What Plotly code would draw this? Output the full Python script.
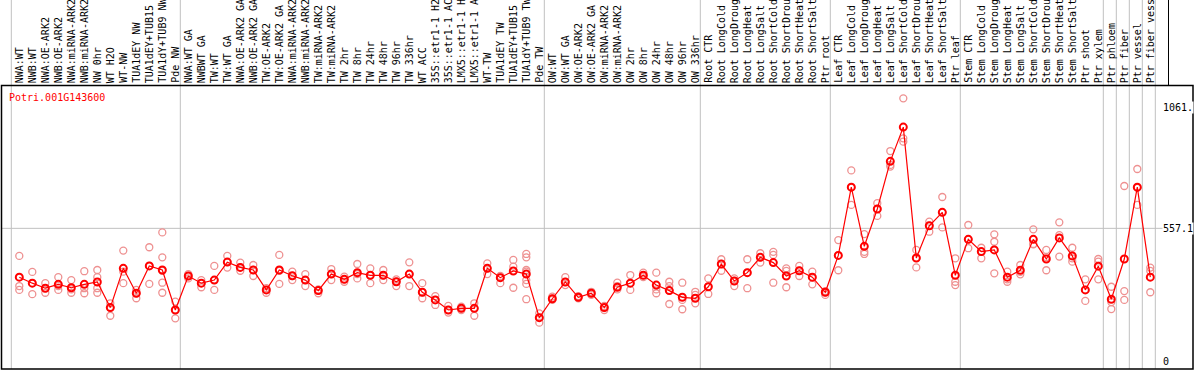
import plotly.graph_objects as go

labels = ["NWA:WT", "NWB:WT", "NWA:OE-ARK2", "NWB:OE-ARK2", "NWA:miRNA-ARK2", "NWB:miRNA-ARK2",
          "NW 0hr", "WT H2O", "WT-NW", "TUA1dEY NW", "TUA1dEY+TUB15", "TUA1dY+TUB9 NW", "Pde NW",
          "NWA:WT GA", "NWBWT GA", "TW:WT", "TW:WT GA", "NWA:OE-ARK2 GA", "NWB:OE-ARK2 GA",
          "TW:OE-ARK2", "TW:OE-ARK2 GA", "NWA:miRNA-ARK2", "NWB:miRNA-ARK2", "TW:miRNA-ARK2",
          "TW:miRNA-ARK2", "TW 2hr", "TW 8hr", "TW 24hr", "TW 48hr", "TW 96hr", "TW 336hr", "WT ACC",
          "35S::etr1-1 H2", "35S::etr1-1 AC", "LMX5::etr1-1 H", "LMX5::etr1-1 A", "WT-TW",
          "TUA1dEY TW", "TUA1dEY+TUB15", "TUA1dY+TUB9 TW", "Pde TW",
          "OW:WT", "OW:WT GA", "OW:OE-ARK2", "OW:OE-ARK2 GA", "OW:miRNA-ARK2", "OW:miRNA-ARK2",
          "OW 2hr", "OW 8hr", "OW 24hr", "OW 48hr", "OW 96hr", "OW 336hr",
          "Root CTR", "Root LongCold", "Root LongDroug", "Root LongHeat", "Root LongSalt",
          "Root ShortCold", "Root ShortDrou", "Root ShortHeat", "Root ShortSalt", "Ptr root",
          "Leaf CTR", "Leaf LongCold", "Leaf LongDroug", "Leaf LongHeat", "Leaf LongSalt",
          "Leaf ShortCold", "Leaf ShortDrou", "Leaf ShortHeat", "Leaf ShortSalt", "Ptr leaf",
          "Stem CTR", "Stem LongCold", "Stem LongDroug", "Stem LongHeat", "Stem LongSalt",
          "Stem ShortCold", "Stem ShortDrou", "Stem ShortHeat", "Stem ShortSalt", "Ptr shoot",
          "Ptr xylem", "Ptr phloem", "Ptr fiber", "Ptr vessel", "Ptr fiber vess"]

means = [353, 328, 307, 323, 309, 323, 333, 226, 390, 286, 400, 383, 216,
         358, 328, 341, 416, 394, 383, 300, 383, 359, 341, 297, 366, 344, 372, 361, 361, 334,
         366, 290, 258, 216, 223, 223, 390, 351, 379, 366, 184,
         263, 333, 269, 286, 226, 311, 328, 361, 320, 297, 269, 265,
         313, 408, 337, 372, 436, 414, 358, 380, 353, 290,
         444, 729, 482, 638, 837, 980, 433, 568, 624, 361,
         511, 460, 467, 353, 382, 511, 429, 517, 442, 300, 399,
         261, 429, 729, 353]

replicates = [
    [442, 316, 300], [375, 328, 282], [328, 307, 288], [353, 316, 300], [341, 302, 288],
    [378, 307, 286], [383, 353, 307, 288], [244, 226, 192], [464, 376, 328], [300, 286, 265],
    [478, 400, 325], [540, 436, 380, 330, 288], [251, 216, 181],
    [366, 358, 348], [341, 328, 311], [400, 341, 300], [442, 416, 393], [414, 394, 380],
    [404, 383, 358], [307, 300, 288], [446, 380, 325], [376, 358, 341], [366, 341, 316],
    [302, 297, 286], [387, 366, 341], [355, 344, 334], [408, 366, 348], [390, 361, 328],
    [383, 361, 341], [344, 334, 316], [415, 366, 316], [328, 290, 265], [274, 258, 237],
    [233, 216, 205], [230, 223, 216], [244, 223, 192], [411, 390, 366], [358, 351, 328],
    [425, 397, 309], [450, 436, 383, 376, 341, 325, 261], [202, 184, 163],
    [272, 263, 258], [353, 333, 320], [274, 269, 265], [292, 286, 279], [233, 226, 216],
    [330, 316, 302], [362, 328, 300], [372, 361, 353], [372, 302, 286], [334, 316, 297, 241],
    [330, 258, 219], [292, 279, 244],
    [348, 313, 283], [428, 408, 380], [348, 337, 316], [428, 372, 307], [453, 436, 414],
    [459, 446, 330], [390, 379, 311], [400, 380, 358], [376, 353, 323], [295, 290, 279],
    [508, 444, 382], [799, 728, 655], [533, 459, 450], [662, 638, 609], [880, 822, 815],
    [1100, 933, 919], [467, 433, 394], [585, 568, 543], [688, 624, 561], [432, 334, 320],
    [571, 511, 474], [476, 459, 432], [532, 501, 369], [376, 344, 334], [404, 375, 365],
    [553, 492, 490], [467, 437, 382], [582, 529, 439], [476, 432, 418], [344, 300, 254],
    [429, 418, 344],
    [313, 249, 220], [734, 295, 258], [805, 726, 655], [393, 379, 290]]

# index of the last label in each group (group separators drawn after these)
group_ends = [0, 13, 41, 53, 63, 73, 84, 85, 86, 87, 88]

gene_id = "Potri.001G143600"
ytick_vals = [1061.0, 557.1, 0]
ytick_text = ["1061.", "557.1", "0"]

W, H = 1194, 370
MONO = "DejaVu Sans Mono"

xs = list(range(1, len(labels) + 1))
rep_x = [x for x, reps in zip(xs, replicates) for _ in reps]
rep_y = [v for reps in replicates for v in reps]

fig = go.Figure()
fig.add_trace(go.Scatter(
    x=rep_x, y=rep_y, mode="markers",
    marker=dict(symbol="circle-open", size=7, color="rgb(238,145,145)",
                line=dict(width=1.3, color="rgb(238,145,145)")),
    hoverinfo="skip", showlegend=False))
fig.add_trace(go.Scatter(
    x=xs, y=means, mode="lines+markers",
    line=dict(color="#ff0000", width=1.2),
    marker=dict(symbol="circle-open", size=7, color="#ff0000",
                line=dict(width=2, color="#ff0000")),
    showlegend=False))

# pixel mapping: marker i at 6.3 + 13*i px; y value v at 361.7 - 0.2394*v px
x_range = [(0 - 6.3) / 13, (W - 6.3) / 13]
y_range = [(361.7 - H) / 0.2394, 361.7 / 0.2394]

def py(p):
    return (H - p) / H

shapes = []
for k in group_ends:
    shapes.append(dict(type="line", xref="x", yref="paper", x0=k + 5 / 13, x1=k + 5 / 13,
                       y0=py(369), y1=1, line=dict(color="#c0c0c0", width=1), layer="below"))
shapes.append(dict(type="line", xref="paper", yref="y", x0=1 / W, x1=1193 / W,
                   y0=ytick_vals[1], y1=ytick_vals[1], line=dict(color="#c0c0c0", width=1),
                   layer="below"))
shapes.append(dict(type="rect", xref="paper", yref="paper", x0=1.5 / W, x1=1193 / W,
                   y0=py(369), y1=py(85.5), line=dict(color="black", width=1.5)))
shapes.append(dict(type="line", xref="paper", yref="paper", x0=1168.5 / W, x1=1168.5 / W,
                   y0=py(85.5), y1=1, line=dict(color="black", width=1)))

annotations = []
for x, lab in zip(xs, labels):
    annotations.append(dict(x=x, y=py(84), xref="x", yref="paper", text=lab, textangle=-90,
                            showarrow=False, xanchor="center", yanchor="bottom",
                            font=dict(family=MONO, size=10, color="black"), borderpad=0))
for v, t in zip(ytick_vals, ytick_text):
    annotations.append(dict(x=1162 / W, y=v, xref="paper", yref="y", text=t, showarrow=False,
                            xanchor="left", yanchor="middle", bgcolor="white",
                            font=dict(family=MONO, size=10, color="black"), borderpad=0))
annotations.append(dict(x=8 / W, y=py(97), xref="paper", yref="paper", text=gene_id,
                        showarrow=False, xanchor="left", yanchor="middle",
                        font=dict(family=MONO, size=10, color="#ff0000"), borderpad=0))

fig.update_layout(
    width=W, height=H, margin=dict(l=0, r=0, t=0, b=0, pad=0),
    paper_bgcolor="white", plot_bgcolor="white",
    xaxis=dict(range=x_range, visible=False, fixedrange=True),
    yaxis=dict(range=y_range, visible=False, fixedrange=True),
    shapes=shapes, annotations=annotations,
)

fig.write_html("out.html", config={"displayModeBar": False},
               post_script="document.body.style.margin='0';document.body.style.overflow='hidden';")
